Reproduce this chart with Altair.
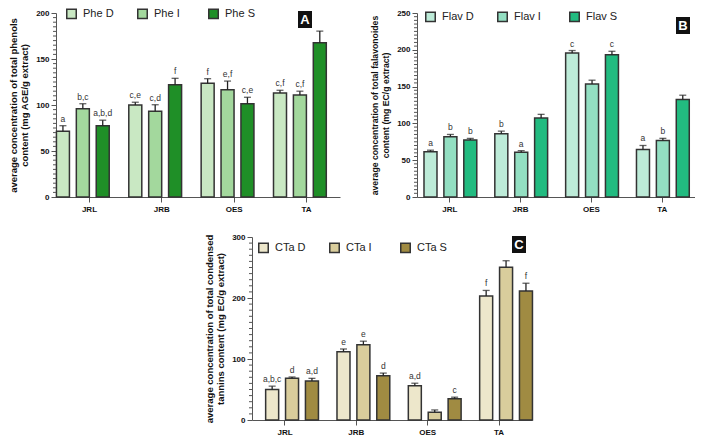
import altair as alt
import pandas as pd

FONT = "Liberation Sans"
cats = ["JRL", "JRB", "OES", "TA"]

# Panel A: total phenols
phe_series = ["Phe D", "Phe I", "Phe S"]
phe_D = [71.5, 100.0, 123.6, 113.0]
phe_I = [96.0, 93.3, 116.5, 111.0]
phe_S = [77.5, 122.0, 101.4, 167.6]
phe_D_err = [6.0, 3.0, 5.0, 3.0]
phe_I_err = [5.4, 7.0, 9.5, 4.0]
phe_S_err = [6.0, 7.0, 7.0, 12.7]
phe_D_lab = ["a", "c,e", "f", "c,f"]
phe_I_lab = ["b,c", "c,d", "e,f", "c,f"]
phe_S_lab = ["a,b,d", "f", "c,e", ""]
phe_colors = ["#c9e8c3", "#a3d89d", "#1f8f27"]

# Panel B: total flavonoids
flav_series = ["Flav D", "Flav I", "Flav S"]
flav_D = [61.6, 86.0, 195.5, 64.7]
flav_I = [82.0, 60.7, 153.4, 76.7]
flav_S = [77.6, 107.3, 193.3, 132.5]
flav_D_err = [2.0, 3.5, 3.5, 5.3]
flav_I_err = [3.0, 2.3, 5.3, 3.0]
flav_S_err = [2.0, 5.0, 4.7, 5.8]
flav_D_lab = ["a", "b", "c", "a"]
flav_I_lab = ["b", "a", "", "b"]
flav_S_lab = ["b", "", "c", ""]
flav_colors = ["#bdebd8", "#93dfc2", "#22bb80"]

# Panel C: condensed tannins
cta_series = ["CTa D", "CTa I", "CTa S"]
cta_D = [50.2, 112.0, 56.0, 203.4]
cta_I = [68.3, 123.3, 12.8, 250.4]
cta_S = [64.0, 72.6, 34.7, 211.4]
cta_D_err = [5.3, 4.4, 4.3, 9.0]
cta_I_err = [2.2, 5.9, 3.7, 10.7]
cta_S_err = [4.3, 4.3, 2.7, 12.8]
cta_D_lab = ["a,b,c", "e", "a,d", "f"]
cta_I_lab = ["d", "e", "", ""]
cta_S_lab = ["a,d", "d", "c", "f"]
cta_colors = ["#ede7cb", "#d9cd9c", "#a08b42"]


def make_df(series, vals, errs, labs):
    rows = []
    for s, v, e, l in zip(series, vals, errs, labs):
        for c, vv, ee, ll in zip(cats, v, e, l):
            rows.append({"cat": c, "series": s, "val": vv, "hi": vv + ee, "lab": ll})
    return pd.DataFrame(rows)


def panel(df, series, colors, ymax, major, minor, title, title_size, letter, w, h,
          leg_x, leg_y, box):
    xenc = alt.X("cat:N", sort=cats, title=None,
                 scale=alt.Scale(paddingInner=0.175, paddingOuter=0.05),
                 axis=alt.Axis(labelFont=FONT, labelFontWeight="bold", labelFontSize=8,
                               labelColor="#111", labelAngle=0, tickSize=5, tickColor="#555",
                               domainColor="#555", labelPadding=3))
    xoff = alt.XOffset("series:N", sort=series,
                       scale=alt.Scale(paddingInner=0.35, paddingOuter=0.175))
    yscale = alt.Scale(domain=[0, ymax], nice=False)
    yaxis = alt.Axis(values=list(range(0, ymax + 1, major)), grid=False,
                     labelOverlap=False, labelFlush=False,
                     labelFont=FONT, labelFontWeight="bold", labelFontSize=8,
                     labelColor="#111", tickSize=5, tickColor="#555",
                     domainColor="#555", titleFont=FONT, titleFontSize=title_size,
                     titleFontWeight="bold", titleColor="#111", titlePadding=6,
                     labelPadding=2)
    base = alt.Chart(df).encode(x=xenc, xOffset=xoff)
    bars = base.mark_bar(stroke="#333", strokeWidth=1.5, size=13).encode(
        y=alt.Y("val:Q", scale=yscale, title=title, axis=yaxis),
        color=alt.Color("series:N", sort=series,
                        scale=alt.Scale(domain=series, range=colors),
                        legend=alt.Legend(title=None, orient="none", legendX=leg_x,
                                          legendY=leg_y, direction="horizontal",
                                          gridAlign="all", columnPadding=20,
                                          symbolType="square", symbolSize=90,
                                          symbolStrokeColor="#333", symbolStrokeWidth=1.5,
                                          symbolOpacity=1, labelFont=FONT, labelFontSize=11,
                                          labelColor="#222", labelOffset=6)),
    )
    err = base.mark_rule(color="#222", strokeWidth=1.3).encode(
        y=alt.Y("val:Q", scale=yscale, title=title, axis=yaxis), y2="hi:Q")
    cap = base.mark_tick(color="#222", size=7, thickness=1.3).encode(
        y=alt.Y("hi:Q", scale=yscale, title=title, axis=yaxis))
    txt = base.mark_text(font=FONT, fontSize=8.5, color="#333", baseline="bottom",
                         dy=-2).encode(y=alt.Y("hi:Q", scale=yscale, title=title, axis=yaxis),
                                       text="lab:N")
    minor_df = pd.DataFrame({"v": [v for v in range(0, ymax + 1, minor) if v % major]})
    minors = alt.Chart(minor_df).mark_rule(color="#555", strokeWidth=1).encode(
        y=alt.Y("v:Q", scale=yscale, title=title, axis=yaxis),
        x=alt.value(-3), x2=alt.value(0))
    lab_df = pd.DataFrame({"t": [letter]})
    boxm = alt.Chart(lab_df).mark_rect(color="#111").encode(
        x=alt.value(box[0]), x2=alt.value(box[0] + 14),
        y=alt.value(box[1]), y2=alt.value(box[1] + 17))
    boxt = alt.Chart(lab_df).mark_text(font=FONT, fontSize=13, fontWeight="bold",
                                       color="white", baseline="middle").encode(
        x=alt.value(box[0] + 7), y=alt.value(box[1] + 9), text="t:N")
    return alt.layer(bars, err, cap, txt, minors, boxm, boxt).resolve_scale(
        color="independent").properties(width=w, height=h)


A = panel(make_df(phe_series, [phe_D, phe_I, phe_S], [phe_D_err, phe_I_err, phe_S_err],
                  [phe_D_lab, phe_I_lab, phe_S_lab]),
          phe_series, phe_colors, 200, 50, 5,
          ["average concentration of total phenols", "content (mg AGE/g extract)"], 9.5,
          "A", 284, 184, 10, -5, (242, -2))
B = panel(make_df(flav_series, [flav_D, flav_I, flav_S], [flav_D_err, flav_I_err, flav_S_err],
                  [flav_D_lab, flav_I_lab, flav_S_lab]),
          flav_series, flav_colors, 250, 50, 5,
          ["average concentration of total falavonoides", "content (mg EC/g extract)"], 8.7,
          "B", 278, 184, 8, -2, (259, 4))
C = panel(make_df(cta_series, [cta_D, cta_I, cta_S], [cta_D_err, cta_I_err, cta_S_err],
                  [cta_D_lab, cta_I_lab, cta_S_lab]),
          cta_series, cta_colors, 300, 100, 10,
          ["average concentration of total condensed", "tannins content (mg EC/g extract)"], 9.5,
          "C", 280, 183, 6, 5, (260, -1))

spacer = alt.Chart(pd.DataFrame({"a": [0]})).mark_point(opacity=0).properties(
    width=148, height=10)

chart = alt.vconcat(alt.hconcat(A, B, spacing=30), alt.hconcat(spacer, C, spacing=0),
                    spacing=20).properties(
    padding=0
).configure_view(stroke=None).resolve_scale(color="independent")

chart.save("out.html", embed_options={"renderer": "svg", "actions": False})
